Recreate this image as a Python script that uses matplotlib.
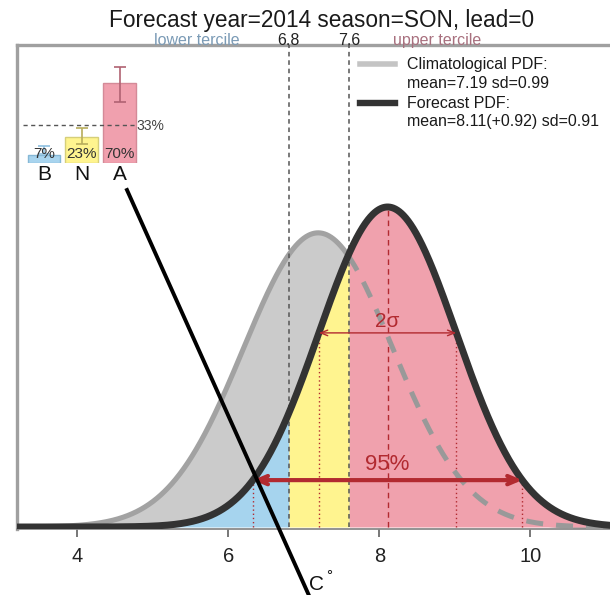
import numpy as np
import matplotlib
matplotlib.use("Agg")
import matplotlib.pyplot as plt
from matplotlib.lines import Line2D

plt.rcParams['font.family'] = ['Liberation Sans', 'DejaVu Sans']

# ---- data ----
year, season, lead = 2014, "SON", 0
clim_mean, clim_sd = 7.19, 0.99
fc_mean, fc_sd = 8.11, 0.91
fc_shift = 0.92
terciles = [6.8, 7.6]
tercile_labels = ["6.8", "7.6"]
x_ticks = [4, 6, 8, 10]

cat_labels = ["B", "N", "A"]
cat_probs = [7, 23, 70]
cat_lo = [8, 17, 53]
cat_hi = [15, 31, 84]
ref_prob = 33

W, H = 610, 595
fig = plt.figure(figsize=(W / 100, H / 100), dpi=100)


def P(x, y):
    return (x / W, 1 - y / H)


ax = fig.add_axes([17 / W, (H - 529) / H, (627 - 17) / W, (529 - 45) / H])
ax.set_xlim(3.201, 11.281)
ax.set_ylim(-0.00274, 0.6603)


def npdf(x, m, s):
    return np.exp(-0.5 * ((x - m) / s) ** 2) / (s * np.sqrt(2 * np.pi))


x = np.linspace(2.8, 11.8, 2000)
yc = npdf(x, clim_mean, clim_sd)
yf = npdf(x, fc_mean, fc_sd)

RED = '#b22a30'

# climatological PDF
ax.fill_between(x, 0, yc, color='#cbcbcb', lw=0, zorder=1)
ax.plot(x, yc, color='#a2a2a2', lw=3.7, zorder=2, solid_capstyle='butt')

# forecast PDF split by terciles
lo, hi = terciles
ax.fill_between(x, 0, yf, where=x <= lo, color='#a6d4ee', lw=0, zorder=3)
ax.fill_between(x, 0, yf, where=(x >= lo) & (x <= hi), color='#fff48f', lw=0, zorder=3)
ax.fill_between(x, 0, yf, where=x >= hi, color='#f0a1ad', lw=0, zorder=3)

# climatology hidden beneath the forecast
under = (x > clim_mean) & (yc < yf)
ax.plot(x[under], yc[under], color='#999999', lw=3.6, dashes=(3.4, 2.6),
        zorder=5, dash_capstyle='butt')

# mean, +-1 sd and 95% markers
ax.plot([fc_mean, fc_mean], [0, npdf(fc_mean, fc_mean, fc_sd)], color=RED,
        lw=1.0, dashes=(4, 3), zorder=4)
for k in (-1, 1):
    xv = fc_mean + k * fc_sd
    ax.plot([xv, xv], [0, npdf(xv, fc_mean, fc_sd)], color=RED, lw=1.0,
            linestyle=(0, (1, 2)), zorder=4)
    xv = fc_mean + k * 1.96 * fc_sd
    ax.plot([xv, xv], [0, npdf(xv, fc_mean, fc_sd)], color=RED, lw=1.0,
            linestyle=(0, (1, 2)), zorder=4)

# tercile boundaries
for t in terciles:
    ax.plot([t, t], [0, 0.6603], color='#555555', lw=1.1, dashes=(3, 2.5),
            zorder=5, clip_on=False)

ax.plot(x, yf, color='#333333', lw=5.0, zorder=6, solid_capstyle='butt')

# 2 sigma arrow
y1 = npdf(fc_mean + fc_sd, fc_mean, fc_sd)
ax.annotate('', xy=(fc_mean + fc_sd, y1), xytext=(fc_mean - fc_sd, y1),
            arrowprops=dict(arrowstyle='<->,head_length=0.5,head_width=0.2',
                            color=RED, lw=1.0, shrinkA=0, shrinkB=0), zorder=7)
ax.text(fc_mean, y1 + 0.015, '2σ', color=RED, fontsize=15, ha='center',
        va='center', zorder=7, family=['Liberation Sans', 'DejaVu Sans'])

# 95% arrow
y2 = npdf(fc_mean + 1.96 * fc_sd, fc_mean, fc_sd)
ax.annotate('', xy=(fc_mean + 1.96 * fc_sd, y2), xytext=(fc_mean - 1.96 * fc_sd, y2),
            arrowprops=dict(arrowstyle='<->,head_length=0.7,head_width=0.3',
                            color=RED, lw=3.0, shrinkA=0, shrinkB=0), zorder=7)
ax.text(fc_mean, y2 + 0.021, '95%', color=RED, fontsize=16, ha='center',
        va='center', zorder=7)

# frame and axis
for side in ('left', 'top'):
    ax.spines[side].set_color('#a0a0a0')
    ax.spines[side].set_linewidth(2.4)
ax.spines['right'].set_visible(False)
ax.spines['bottom'].set_color('#8a8a8a')
ax.spines['bottom'].set_linewidth(1.3)
ax.set_yticks([])
ax.set_xticks(x_ticks)
ax.set_xticklabels([str(v) for v in x_ticks])
ax.tick_params(axis='x', direction='out', length=6, width=1.4, color='#777777',
               labelsize=14.5, labelcolor='#222222', pad=7)

# title and tercile labels
fig.text(*P(322, 20), f"Forecast year={year} season={season}, lead={lead}",
         fontsize=16.3, ha='center', va='center', color='#1a1a1a')
fig.text(*P(197, 45), "lower tercile", fontsize=11.5, ha='center',
         va='baseline', color='#7b9bb6')
fig.text(*P(437, 45), "upper tercile", fontsize=11.5, ha='center',
         va='baseline', color='#a8707e')
for t, lab in zip(terciles, tercile_labels):
    xp = 77.3 + (t - 4) * 75.5
    fig.text(*P(xp, 45), lab, fontsize=11.5, ha='center', va='baseline',
             color='#222222')

# legend
fig.add_artist(Line2D([360 / W, 395 / W], [1 - 64 / H, 1 - 64 / H],
                      color='#c4c4c4', lw=4.0, transform=fig.transFigure))
fig.add_artist(Line2D([360 / W, 395 / W], [1 - 103 / H, 1 - 103 / H],
                      color='#333333', lw=4.6, transform=fig.transFigure))
leg_lines = [
    (65, "Climatological PDF:"),
    (83, f"mean={clim_mean:.2f} sd={clim_sd:.2f}"),
    (103, "Forecast PDF:"),
    (122, f"mean={fc_mean:.2f}(+{fc_shift:.2f}) sd={fc_sd:.2f}"),
]
for yp, txt in leg_lines:
    fig.text(*P(407, yp), txt, fontsize=11.5, ha='left', va='center',
             color='#1a1a1a')

# tercile probability inset
iax = fig.add_axes([20 / W, (H - 163) / H, 140 / W, 103 / H])
iax.set_xlim(-0.636, 3.07)
iax.set_ylim(0, 90)
iax.axis('off')
bar_fc = ['#a8d4ee', '#fff48f', '#f0a0ae']
bar_ec = ['#86b8d6', '#d6cf7a', '#d48a98']
err_c = ['#8fc0e0', '#b8ad5c', '#b06272']
pos = np.arange(len(cat_labels))
iax.bar(pos, cat_probs, width=0.87, color=bar_fc, edgecolor=bar_ec,
        linewidth=1.0, zorder=1)
for i in pos:
    iax.errorbar(pos[i], (cat_lo[i] + cat_hi[i]) / 2,
                 yerr=[[(cat_hi[i] - cat_lo[i]) / 2]], fmt='none',
                 ecolor=err_c[i], elinewidth=1.2, capsize=4, capthick=1.2,
                 zorder=2)
    iax.text(pos[i], 8, f"{cat_probs[i]}%", fontsize=11, ha='center',
             va='center', color='#333333', zorder=3)
    iax.text(pos[i], -10, cat_labels[i], fontsize=15, ha='center',
             va='center', color='#111111', clip_on=False)
iax.plot([-0.56, 2.44], [ref_prob, ref_prob], color='#555555', lw=1.0,
         dashes=(3, 2.5), zorder=2)
iax.text(2.45, ref_prob - 1, f"{ref_prob}%", fontsize=10, ha='left',
         va='center', color='#444444', clip_on=False)

# unit pointer
fig.add_artist(Line2D([127 / W, 311 / W], [1 - 190 / H, 1 - 600 / H],
                      color='black', lw=2.8, transform=fig.transFigure,
                      zorder=10))
fig.text(*P(316, 585), "C", fontsize=15, ha='center', va='center',
         color='#111111')
fig.text(*P(329, 576), "°", fontsize=11, ha='center', va='center',
         color='#111111', family=['Liberation Sans', 'DejaVu Sans'])

fig.savefig("out.png", dpi=100)
